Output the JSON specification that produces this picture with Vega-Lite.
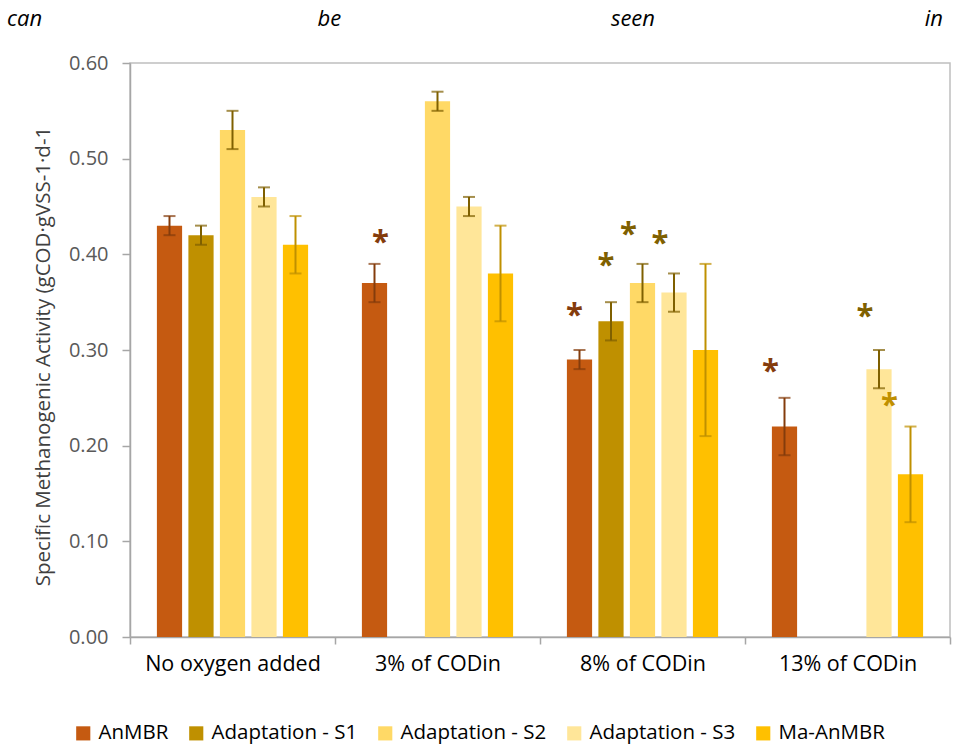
{
  "$schema": "https://vega.github.io/schema/vega-lite/v6.json",
  "width": 820,
  "height": 574,
  "autosize": {"type": "none"},
  "padding": {"left": 130, "top": 63, "right": 9, "bottom": 113},
  "config": {
    "font": "Open Sans",
    "view": {"stroke": "#bfbfbf", "strokeWidth": 1.5}
  },
  "title": {
    "text": "can\u2003\u2003\u2003\u2003\u2003\u2003\u2003\u2003\u2003\u2003\u2003\u2003\u00a0\u00a0be\u2003\u2003\u2003\u2003\u2003\u2003\u2003\u2003\u2003\u2003\u2003\u2003\u00a0seen\u2003\u2003\u2003\u2003\u2003\u2003\u2003\u2003\u2003\u2003\u2003\u2003\u00a0in",
    "anchor": "start",
    "frame": "group",
    "dx": -123,
    "offset": 22,
    "fontSize": 22,
    "fontStyle": "italic",
    "fontWeight": "normal",
    "color": "#000000"
  },
  "datasets": {
    "bars": [
      {"group": "No oxygen added", "series": "AnMBR", "value": 0.43, "lo": 0.42, "hi": 0.44},
      {"group": "No oxygen added", "series": "Adaptation - S1", "value": 0.42, "lo": 0.41, "hi": 0.43},
      {"group": "No oxygen added", "series": "Adaptation - S2", "value": 0.53, "lo": 0.51, "hi": 0.55},
      {"group": "No oxygen added", "series": "Adaptation - S3", "value": 0.46, "lo": 0.45, "hi": 0.47},
      {"group": "No oxygen added", "series": "Ma-AnMBR", "value": 0.41, "lo": 0.38, "hi": 0.44},
      {"group": "3% of CODin", "series": "AnMBR", "value": 0.37, "lo": 0.35, "hi": 0.39},
      {"group": "3% of CODin", "series": "Adaptation - S2", "value": 0.56, "lo": 0.55, "hi": 0.57},
      {"group": "3% of CODin", "series": "Adaptation - S3", "value": 0.45, "lo": 0.44, "hi": 0.46},
      {"group": "3% of CODin", "series": "Ma-AnMBR", "value": 0.38, "lo": 0.33, "hi": 0.43},
      {"group": "8% of CODin", "series": "AnMBR", "value": 0.29, "lo": 0.28, "hi": 0.30},
      {"group": "8% of CODin", "series": "Adaptation - S1", "value": 0.33, "lo": 0.31, "hi": 0.35},
      {"group": "8% of CODin", "series": "Adaptation - S2", "value": 0.37, "lo": 0.35, "hi": 0.39},
      {"group": "8% of CODin", "series": "Adaptation - S3", "value": 0.36, "lo": 0.34, "hi": 0.38},
      {"group": "8% of CODin", "series": "Ma-AnMBR", "value": 0.30, "lo": 0.21, "hi": 0.39},
      {"group": "13% of CODin", "series": "AnMBR", "value": 0.22, "lo": 0.19, "hi": 0.25},
      {"group": "13% of CODin", "series": "Adaptation - S3", "value": 0.28, "lo": 0.26, "hi": 0.30},
      {"group": "13% of CODin", "series": "Ma-AnMBR", "value": 0.17, "lo": 0.12, "hi": 0.22}
    ],
    "stars": [
      {"group": "3% of CODin", "series": "AnMBR", "star": 0.418},
      {"group": "8% of CODin", "series": "AnMBR", "star": 0.342},
      {"group": "8% of CODin", "series": "Adaptation - S1", "star": 0.394},
      {"group": "8% of CODin", "series": "Adaptation - S2", "star": 0.426},
      {"group": "8% of CODin", "series": "Adaptation - S3", "star": 0.417},
      {"group": "13% of CODin", "series": "AnMBR", "star": 0.283},
      {"group": "13% of CODin", "series": "Adaptation - S3", "star": 0.341},
      {"group": "13% of CODin", "series": "Ma-AnMBR", "star": 0.248}
    ]
  },
  "encoding": {
    "x": {
      "field": "group",
      "type": "nominal",
      "sort": ["No oxygen added", "3% of CODin", "8% of CODin", "13% of CODin"],
      "scale": {"paddingInner": 0, "paddingOuter": 0},
      "axis": {
        "title": null,
        "labelAngle": 0,
        "tickBand": "extent",
        "domainColor": "#a6a6a6",
        "domainWidth": 1.5,
        "tickColor": "#a6a6a6",
        "tickWidth": 1.5,
        "tickSize": 7,
        "labelFontSize": 21.5,
        "labelColor": "#000000",
        "labelPadding": 9
      }
    },
    "xOffset": {
      "field": "series",
      "type": "nominal",
      "scale": {
        "domain": ["AnMBR", "Adaptation - S1", "Adaptation - S2", "Adaptation - S3", "Ma-AnMBR"],
        "paddingInner": 0.2,
        "paddingOuter": 0.854
      }
    }
  },
  "layer": [
    {
      "data": {"name": "bars"},
      "mark": {"type": "bar"},
      "encoding": {
        "y": {
          "field": "value",
          "type": "quantitative",
          "scale": {"domain": [0, 0.6]},
          "axis": {
            "values": [0, 0.1, 0.2, 0.3, 0.4, 0.5, 0.6],
            "format": ".2f",
            "grid": false,
            "domainColor": "#a6a6a6",
            "domainWidth": 1.5,
            "tickColor": "#a6a6a6",
            "tickWidth": 1.5,
            "tickSize": 8,
            "labelFontSize": 20,
            "labelColor": "#595959",
            "labelPadding": 14,
            "title": "Specific Methanogenic Activity (gCOD·gVSS-1·d-1",
            "titleFontSize": 20.5,
            "titleFontWeight": "normal",
            "titleColor": "#404040",
            "titlePadding": 15,
            "titleY": 293
          }
        },
        "color": {
          "field": "series",
          "type": "nominal",
          "scale": {
            "domain": ["AnMBR", "Adaptation - S1", "Adaptation - S2", "Adaptation - S3", "Ma-AnMBR"],
            "range": ["#c55a11", "#bf9000", "#ffd966", "#ffe699", "#ffc000"]
          },
          "legend": {
            "orient": "none",
            "legendX": -57,
            "legendY": 660,
            "direction": "horizontal",
            "title": null,
            "symbolType": "square",
            "symbolSize": 200,
            "symbolStrokeWidth": 0,
            "labelFontSize": 20.5,
            "labelColor": "#000000",
            "labelOffset": 5,
            "columnPadding": 17
          }
        }
      }
    },
    {
      "data": {"name": "bars"},
      "mark": {"type": "rule", "strokeWidth": 2},
      "encoding": {
        "y": {"field": "lo", "type": "quantitative"},
        "y2": {"field": "hi"},
        "color": {
          "field": "series",
          "type": "nominal",
          "scale": {
            "domain": ["AnMBR", "Adaptation - S1", "Adaptation - S2", "Adaptation - S3", "Ma-AnMBR"],
            "range": ["#843c0c", "#7f6000", "#7f6000", "#7f6000", "#bf9000"]
          },
          "legend": null
        }
      }
    },
    {
      "data": {"name": "bars"},
      "mark": {"type": "tick", "size": 12, "thickness": 2},
      "encoding": {
        "y": {"field": "lo", "type": "quantitative"},
        "color": {
          "field": "series",
          "type": "nominal",
          "scale": {
            "domain": ["AnMBR", "Adaptation - S1", "Adaptation - S2", "Adaptation - S3", "Ma-AnMBR"],
            "range": ["#843c0c", "#7f6000", "#7f6000", "#7f6000", "#bf9000"]
          },
          "legend": null
        }
      }
    },
    {
      "data": {"name": "bars"},
      "mark": {"type": "tick", "size": 12, "thickness": 2},
      "encoding": {
        "y": {"field": "hi", "type": "quantitative"},
        "color": {
          "field": "series",
          "type": "nominal",
          "scale": {
            "domain": ["AnMBR", "Adaptation - S1", "Adaptation - S2", "Adaptation - S3", "Ma-AnMBR"],
            "range": ["#843c0c", "#7f6000", "#7f6000", "#7f6000", "#bf9000"]
          },
          "legend": null
        }
      }
    },
    {
      "data": {"name": "stars"},
      "transform": [{"filter": "datum.group === '3% of CODin'"}],
      "mark": {"type": "text", "text": "*", "fontSize": 31, "fontWeight": "bold", "baseline": "middle", "dx": 6, "dy": 6},
      "encoding": {
        "y": {"field": "star", "type": "quantitative"},
        "color": {
          "field": "series",
          "type": "nominal",
          "scale": {
            "domain": ["AnMBR", "Adaptation - S1", "Adaptation - S2", "Adaptation - S3", "Ma-AnMBR"],
            "range": ["#843c0c", "#7f6000", "#7f6000", "#7f6000", "#bf9000"]
          },
          "legend": null
        }
      }
    },
    {
      "data": {"name": "stars"},
      "transform": [{"filter": "datum.group === '8% of CODin' && (datum.series === 'AnMBR' || datum.series === 'Adaptation - S1')"}],
      "mark": {"type": "text", "text": "*", "fontSize": 31, "fontWeight": "bold", "baseline": "middle", "dx": -5, "dy": 6},
      "encoding": {
        "y": {"field": "star", "type": "quantitative"},
        "color": {
          "field": "series",
          "type": "nominal",
          "scale": {
            "domain": ["AnMBR", "Adaptation - S1", "Adaptation - S2", "Adaptation - S3", "Ma-AnMBR"],
            "range": ["#843c0c", "#7f6000", "#7f6000", "#7f6000", "#bf9000"]
          },
          "legend": null
        }
      }
    },
    {
      "data": {"name": "stars"},
      "transform": [{"filter": "(datum.group === '8% of CODin' && datum.series !== 'AnMBR' && datum.series !== 'Adaptation - S1') || (datum.group === '13% of CODin' && datum.series !== 'Ma-AnMBR')"}],
      "mark": {"type": "text", "text": "*", "fontSize": 31, "fontWeight": "bold", "baseline": "middle", "dx": -14, "dy": 6},
      "encoding": {
        "y": {"field": "star", "type": "quantitative"},
        "color": {
          "field": "series",
          "type": "nominal",
          "scale": {
            "domain": ["AnMBR", "Adaptation - S1", "Adaptation - S2", "Adaptation - S3", "Ma-AnMBR"],
            "range": ["#843c0c", "#7f6000", "#7f6000", "#7f6000", "#bf9000"]
          },
          "legend": null
        }
      }
    },
    {
      "data": {"name": "stars"},
      "transform": [{"filter": "datum.group === '13% of CODin' && datum.series === 'Ma-AnMBR'"}],
      "mark": {"type": "text", "text": "*", "fontSize": 31, "fontWeight": "bold", "baseline": "middle", "dx": -21, "dy": 6},
      "encoding": {
        "y": {"field": "star", "type": "quantitative"},
        "color": {
          "field": "series",
          "type": "nominal",
          "scale": {
            "domain": ["AnMBR", "Adaptation - S1", "Adaptation - S2", "Adaptation - S3", "Ma-AnMBR"],
            "range": ["#843c0c", "#7f6000", "#7f6000", "#7f6000", "#bf9000"]
          },
          "legend": null
        }
      }
    }
  ],
  "resolve": {"scale": {"color": "independent"}}
}
